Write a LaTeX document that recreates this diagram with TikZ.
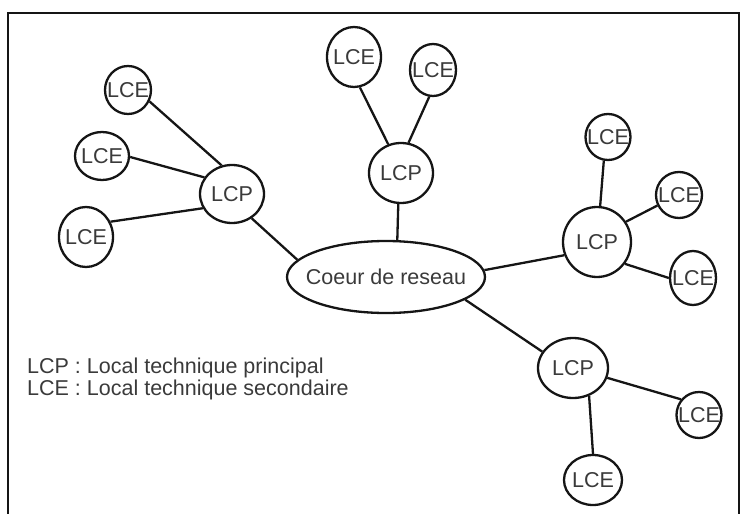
\documentclass[tikz,border=0pt]{standalone}
\usepackage{fontspec}
\setmainfont{Liberation Sans}
\usetikzlibrary{shapes.geometric}
\definecolor{txt}{HTML}{3A3A3A}
\definecolor{ln}{HTML}{151515}
\begin{document}
\begin{tikzpicture}[x=1pt,y=-1pt,
  every node/.style={font=\fontsize{21.5}{25}\selectfont, text=txt},
  oval/.style={ellipse, draw=ln, line width=2.3pt, fill=white, inner sep=0pt},
  link/.style={draw=ln, line width=2.3pt}]
\useasboundingbox (0,0) rectangle (740,514);
\draw[ln, line width=2.3pt] (8,514) -- (8,12.7) -- (739,12.7) -- (739,514);

% core
\node[oval, minimum width=198pt, minimum height=72pt] (core) at (386,277) {\makebox[0pt]{Coeur de reseau}};
% top-left cluster
\node[oval, minimum width=64pt, minimum height=58pt] (p1) at (232,194) {\makebox[0pt]{LCP}};
\node[oval, minimum width=46pt, minimum height=48pt] (e1) at (128,90) {\makebox[0pt]{LCE}};
\node[oval, minimum width=54pt, minimum height=48pt] (e2) at (102,156) {\makebox[0pt]{LCE}};
\node[oval, minimum width=54pt, minimum height=60pt] (e3) at (86,237) {\makebox[0pt]{LCE}};
% top cluster
\node[oval, minimum width=64pt, minimum height=60pt] (p2) at (401,173) {\makebox[0pt]{LCP}};
\node[oval, minimum width=54pt, minimum height=60pt] (e4) at (354,57) {\makebox[0pt]{LCE}};
\node[oval, minimum width=46pt, minimum height=52pt] (e5) at (433,70) {\makebox[0pt]{LCE}};
% right cluster
\node[oval, minimum width=68pt, minimum height=70pt] (p3) at (597,242) {\makebox[0pt]{LCP}};
\node[oval, minimum width=45pt, minimum height=46pt] (e6) at (608,137) {\makebox[0pt]{LCE}};
\node[oval, minimum width=46pt, minimum height=46pt] (e7) at (679,195) {\makebox[0pt]{LCE}};
\node[oval, minimum width=46pt, minimum height=54pt] (e8) at (693,278) {\makebox[0pt]{LCE}};
% bottom-right cluster
\node[oval, minimum width=70pt, minimum height=60pt] (p4) at (573,368) {\makebox[0pt]{LCP}};
\node[oval, minimum width=45pt, minimum height=46pt] (e9) at (699,415) {\makebox[0pt]{LCE}};
\node[oval, minimum width=58pt, minimum height=50pt] (e10) at (593,480) {\makebox[0pt]{LCE}};

% links (drawn behind by redrawing order: links first would be hidden; use border anchors)
\draw[link] (core.169) -- (p1.-51);
\draw[link] (core.73) -- (p2.-95);
\draw[link] (core.4) -- (p3.-158);
\draw[link] (core.-16) -- (p4.152);
\draw[link] (p1.110) -- (e1.-28);
\draw[link] (p1.149) -- (e2.-2);
\draw[link] (p1.206) -- (e3.32);
\draw[link] (p2.114) -- (e4.-79);
\draw[link] (p2.76) -- (e5.-98);
\draw[link] (p3.85) -- (e6.-100);
\draw[link] (p3.35) -- (e7.-154);
\draw[link] (p3.-38) -- (e8.180);
\draw[link] (p4.-16) -- (e9.139);
\draw[link] (p4.-60) -- (e10.90);

% legend
\node[anchor=base west, inner sep=0pt] (l1) at (27,373) {LCP : Local technique principal};
\node[anchor=base west, inner sep=0pt] (l2) at (27,395) {LCE : Local technique secondaire};
\end{tikzpicture}
\end{document}
